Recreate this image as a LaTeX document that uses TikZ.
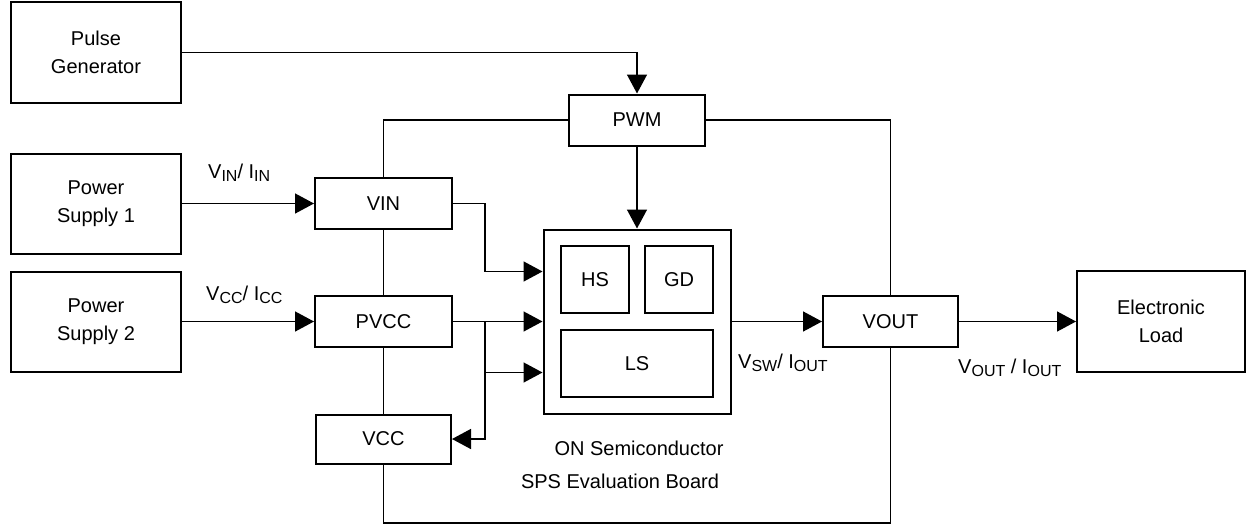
\documentclass[tikz,border=0pt]{standalone}
\usepackage{fontspec}
\setmainfont{Liberation Sans}
\usetikzlibrary{arrows.meta}
\newcommand\lowsub[1]{\raisebox{-3pt}{\fontsize{16}{16}\selectfont #1}}
\begin{document}
\begin{tikzpicture}[x=1pt,y=-1pt,>={Triangle[length=19pt,width=20pt]},
  every node/.style={font=\fontsize{20}{28}\selectfont},
  blk/.style={draw,line width=2pt,inner sep=0pt,align=center},
  wire/.style={line width=1.5pt}]
\useasboundingbox (0,0) rectangle (1246,525);

\node[blk,minimum width=170pt,minimum height=101pt] (pg) at (96,52.5) {Pulse\\Generator};
\node[blk,minimum width=170pt,minimum height=100pt] (ps1) at (96,203.5) {Power\\Supply 1};
\node[blk,minimum width=170pt,minimum height=100pt] (ps2) at (96,321.5) {Power\\Supply 2};

\node[blk,minimum width=136pt,minimum height=51pt] (pwm) at (637,120) {PWM};
\node[blk,minimum width=137pt,minimum height=51pt] (vin) at (383.5,203.5) {VIN};
\node[blk,minimum width=137pt,minimum height=51pt] (pvcc) at (383.5,321.5) {PVCC};
\node[blk,minimum width=135pt,minimum height=49pt] (vcc) at (383.5,439) {VCC};

\node[blk,minimum width=187pt,minimum height=184pt] (board) at (637,321.5) {};
\node[blk,minimum width=68pt,minimum height=67pt] (hs) at (595,279.5) {HS};
\node[blk,minimum width=68pt,minimum height=67pt] (gd) at (679,279.5) {GD};
\node[blk,minimum width=152pt,minimum height=67pt] (ls) at (637,363.5) {LS};

\node[blk,minimum width=135pt,minimum height=51pt] (vout) at (890.5,321.5) {VOUT};
\node[blk,minimum width=168pt,minimum height=101pt] (load) at (1161,321.5) {Electronic\\Load};

\node[anchor=base] (on) at (639,455) {ON Semiconductor};
\node[anchor=base] (sps) at (620,488) {SPS Evaluation Board};

\node[anchor=base west,inner sep=0pt] (vinlbl) at (208,178) {V\lowsub{IN}/ I\lowsub{IN}};
\node[anchor=base west,inner sep=0pt] (vcclbl) at (206,300) {V\lowsub{CC}/ I\lowsub{CC}};
\node[anchor=base west,inner sep=0pt] (vswlbl) at (738,368) {V\lowsub{SW}/ I\lowsub{OUT}};
\node[anchor=base west,inner sep=0pt] (voutlbl) at (958,373) {V\lowsub{OUT} / I\lowsub{OUT}};

\coordinate (jn) at (485,321.5);
\coordinate (in1) at ([yshift=50pt]board.west);
\coordinate (in3) at ([yshift=-51pt]board.west);
\coordinate (bot) at (637,523);

\draw[wire,->] (pg.east) -| (pwm.north);
\draw[wire,->] (pwm.south) -- (board.north);
\draw[wire] (pwm.west) -| (vin.north);
\draw[wire] (pwm.east) -| (vout.north);
\draw[wire,->] (ps1.east) -- (vin.west);
\draw[wire,->] (ps2.east) -- (pvcc.west);
\draw[wire] (vin.south) -- (pvcc.north);
\draw[wire] (pvcc.south) -- (vcc.north);
\draw[wire,->] (vin.east) -| (jn |- in1) -- (in1);
\draw[wire,->] (pvcc.east) -- (board.west);
\draw[wire,->] (jn) |- (in3);
\draw[wire,->] (jn) |- (vcc.east);
\draw[wire,->] (board.east) -- (vout.west);
\draw[wire,->] (vout.east) -- (load.west);
\draw[wire] (vcc.south) |- (bot) -| (vout.south);

\end{tikzpicture}
\end{document}
